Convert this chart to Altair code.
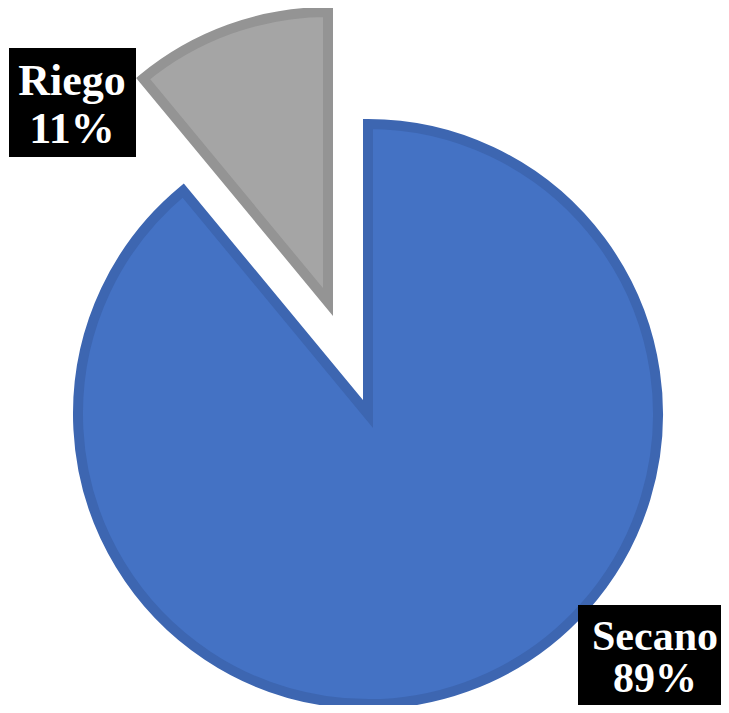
import altair as alt
import pandas as pd

categories = ["Secano", "Riego"]
values = [89, 11]
fills = ["#4472C4", "#A5A5A5"]
strokes = ["#3D66B1", "#949494"]

df = pd.DataFrame({"cat": categories, "value": values})

base = (
    alt.Chart(df)
    .transform_joinaggregate(total="sum(value)")
    .transform_window(cum="sum(value)", frame=[None, 0])
    .transform_calculate(
        start="(datum.cum - datum.value) / datum.total * 2 * PI",
        end="datum.cum / datum.total * 2 * PI",
        label="datum.cat + '\\n' + format(datum.value / datum.total * 100, '.0f') + '%'",
    )
)

R = 290
centers = {"Secano": (360, 406), "Riego": (320, 294)}

layers = []
for cat, fc, sc in zip(categories, fills, strokes):
    cx, cy = centers[cat]
    layers.append(
        base.transform_filter(f"datum.cat == '{cat}'")
        .mark_arc(fill=fc, stroke=sc, strokeWidth=10, strokeJoin="miter",
                  outerRadius=R)
        .encode(
            theta=alt.Theta("start:Q", scale=None),
            theta2="end:Q",
            x=alt.value(cx),
            y=alt.value(cy),
        )
    )

# box x1, x2, y1, y2, text x, first baseline y, line height, font size
boxes = {"Riego": (1, 128, 40, 149, 64, 87, 48, 44),
         "Secano": (570, 713, 597, 697, 647, 642, 42, 42)}
for cat in ["Riego", "Secano"]:
    x1, x2, y1, y2, tx, ty, lh, fs = boxes[cat]
    sub = base.transform_filter(f"datum.cat == '{cat}'")
    layers.append(
        sub.mark_rect(color="black").encode(
            x=alt.value(x1), x2=alt.value(x2), y=alt.value(y1), y2=alt.value(y2)
        )
    )
    layers.append(
        sub.mark_text(
            lineBreak="\n", font="Liberation Serif", fontWeight="bold",
            fontSize=fs, color="white", align="center", baseline="alphabetic",
            lineHeight=lh,
        ).encode(text="label:N", x=alt.value(tx), y=alt.value(ty))
    )

chart = (
    alt.layer(*layers)
    .properties(width=713, height=697, autosize=alt.AutoSizeParams(type="none"), padding=0)
    .configure_view(stroke=None)
)

chart.save("out.html", embed_options={"renderer": "svg", "actions": False})
